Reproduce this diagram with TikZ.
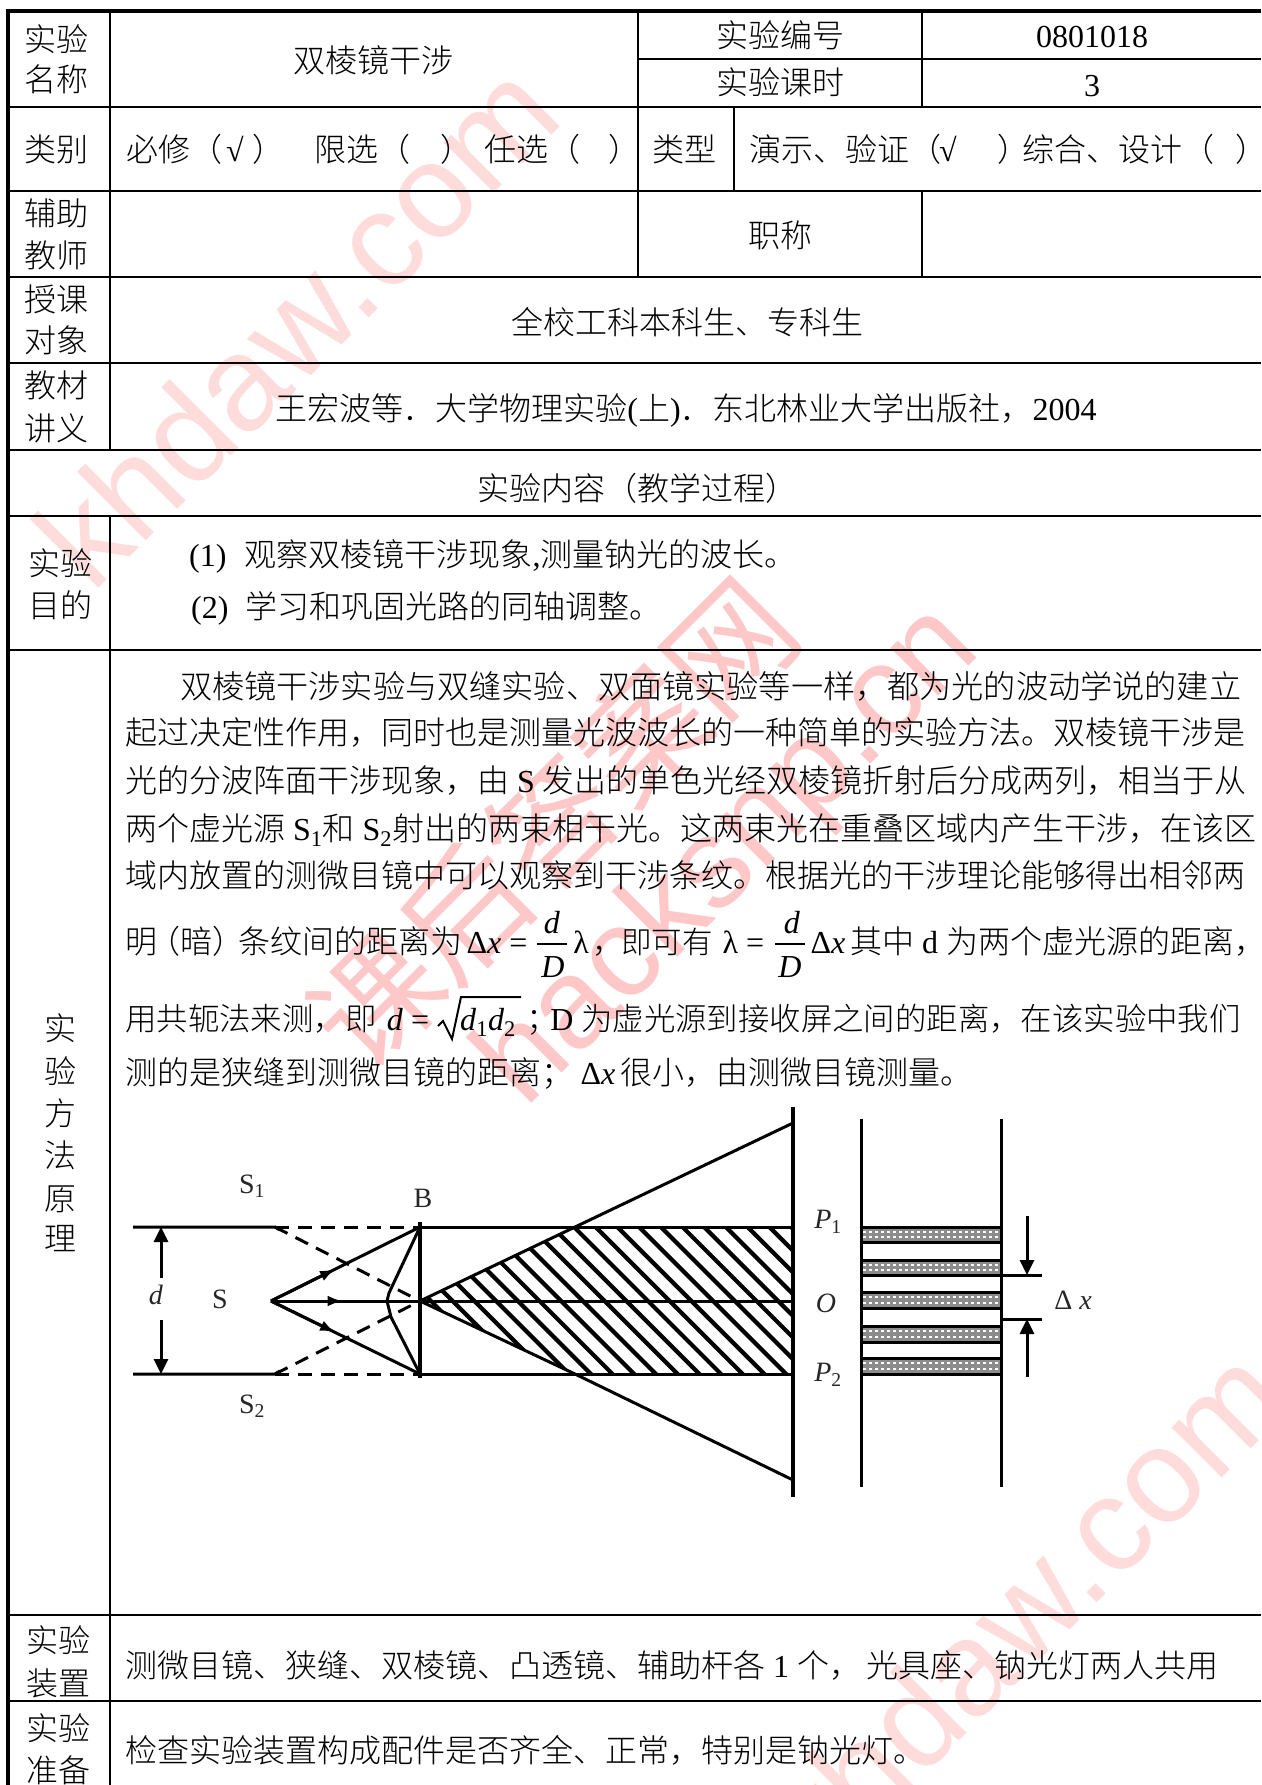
\documentclass[tikz,border=0pt]{standalone}
\usepackage{fontspec}
\setmainfont{Liberation Serif}
\newfontfamily\cjk{Noto Sans CJK SC Light}
\newfontfamily\cjkw{Noto Sans CJK SC}
\newfontfamily\wmf{Liberation Sans}
\usetikzlibrary{arrows.meta,calc}
\definecolor{wma}{HTML}{FFDCDC}
\definecolor{wmb}{HTML}{FFC8C8}
\tikzset{
  ct/.style={font=\cjk\fontsize{32}{38}\selectfont,inner sep=0pt,anchor=base},
  ln/.style={font=\cjk\fontsize{32}{38}\selectfont,inner sep=0pt,anchor=base west},
  lnx/.style={font=\cjk\fontsize{#1}{38}\selectfont,inner sep=0pt,anchor=base west},
  mth/.style={font=\rmfamily\fontsize{32}{38}\selectfont,inner sep=0pt,anchor=base},
  lab/.style={font=\rmfamily\fontsize{28}{30}\selectfont,inner sep=0pt,anchor=center,text=black!85},
  wmk/.style={font=\wmf\fontsize{134}{140}\selectfont,text=wma,inner sep=0pt,anchor=base west,rotate=45},
  rule/.style={line width=2.6pt,black},
  edge/.style={line width=4.5pt,black},
  ray/.style={line width=3pt,black},
  dray/.style={line width=3pt,black,dash pattern=on 14pt off 9pt},
  dim/.style={line width=3pt,black,-{Triangle[length=15pt,width=14pt]}},
  mid/.style={-{Latex[length=15pt,width=11pt]}},
  fringe/.style={draw=black,line width=3pt,fill=black!45},
  dots/.style={white,line width=2.4pt,dash pattern=on 3pt off 3pt},
}
\begin{document}
\begin{tikzpicture}[x=1pt,y=-1pt]
\useasboundingbox (0,0) rectangle (1261,1785);
\fill[white] (0,0) rectangle (1261,1785);
% watermarks
\node[wmk] (w1) at (92,595) {khdaw.com};
\node[wmk,text=wmb,font=\wmf\fontsize{128}{140}\selectfont] (w2) at (525,1110) {hacksnp.cn};
\node[wmk,text=wmb,font=\cjkw\fontsize{125}{130}\selectfont] (w3) at (365,1078) {课后答案网};
\node[wmk] (w4) at (820,1880) {khdaw.com};
% table
\draw[edge] (8,1785) -- (8,11) -- (1261,11);
\draw[rule] (110,11) -- (110,450);
\draw[rule] (110,516) -- (110,1785);
\foreach \yy in {107,191,277,363,450,516,650,1615,1701} \draw[rule] (8,\yy) -- (1261,\yy);
\draw[rule] (638,11) -- (638,277);
\draw[rule] (922,11) -- (922,107);
\draw[rule] (638,59) -- (1261,59);
\draw[rule] (734,107) -- (734,191);
\draw[rule] (922,191) -- (922,277);
% first column
\node[ct] (a1) at (56,52) {实验};
\node[ct] (a2) at (56,92) {名称};
\node[ct] (a3) at (56,161) {类别};
\node[ct] (a4) at (56,225) {辅助};
\node[ct] (a5) at (56,267) {教师};
\node[ct] (a6) at (56,311) {授课};
\node[ct] (a7) at (56,352) {对象};
\node[ct] (a8) at (56,397) {教材};
\node[ct] (a9) at (56,440) {讲义};
\node[ct] (a10) at (60,575) {实验};
\node[ct] (a11) at (60,617) {目的};
\node[ct] (m1) at (60,1040) {实};
\node[ct] (m2) at (60,1083) {验};
\node[ct] (m3) at (60,1125) {方};
\node[ct] (m4) at (60,1167) {法};
\node[ct] (m5) at (60,1210) {原};
\node[ct] (m6) at (60,1250) {理};
\node[ct] (a12) at (58,1652) {实验};
\node[ct] (a13) at (58,1695) {装置};
\node[ct] (a14) at (58,1740) {实验};
\node[ct] (a15) at (58,1782) {准备};
% header cells
\node[ct] (h1) at (373,72) {双棱镜干涉};
\node[ct] (h2) at (780,48) {实验编号};
\node[mth] (h3) at (1092,48) {0801018};
\node[ct] (h4) at (780,95) {实验课时};
\node[mth] (h5) at (1092,96) {3};
\node[ln] (c1) at (126,161) {必修（};
\node[mth] (c2) at (235,161) {√};
\node[ln] (c3) at (252,161) {）};
\node[ln] (c4) at (314,161) {限选（};
\node[ln] (c5) at (440,161) {）};
\node[ln] (c6) at (484,161) {任选（};
\node[ln] (c7) at (608,161) {）};
\node[ct] (c8) at (684,161) {类型};
\node[ln] (c9) at (749,161) {演示、验证（};
\node[mth] (c10) at (948,161) {√};
\node[ln] (c11) at (997,161) {）};
\node[ln] (c12) at (1022,161) {综合、设计（};
\node[ln] (c13) at (1235,161) {）};
\node[ct] (h6) at (780,247) {职称};
\node[ct] (h7) at (687,334) {全校工科本科生、专科生};
\node[ct] (h8) at (686,420) {王宏波等．大学物理实验{\rmfamily (}上{\rmfamily )}．东北林业大学出版社，{\rmfamily 2004}};
\node[ct] (h9) at (637,500) {实验内容（教学过程）};
\node[ln] (o1) at (189,566) {{\rmfamily (1)}\kern18pt 观察双棱镜干涉现象{\rmfamily ,}测量钠光的波长。};
\node[ln] (o2) at (191,618) {{\rmfamily (2)}\kern17pt 学习和巩固光路的同轴调整。};
% paragraph
\node[lnx=32.15] (p1) at (180,698) {双棱镜干涉实验与双缝实验、双面镜实验等一样，都为光的波动学说的建立};
\node[ln] (p2) at (125,744) {起过决定性作用，同时也是测量光波波长的一种简单的实验方法。双棱镜干涉是};
\node[ln] (p3) at (125,792) {光的分波阵面干涉现象，由{\rmfamily\ S\ }发出的单色光经双棱镜折射后分成两列，相当于从};
\node[ln] (p4) at (125,840) {两个虚光源{\rmfamily\ S\textsubscript{1}}和{\rmfamily\ S\textsubscript{2}}射出的两束相干光。这两束光在重叠区域内产生干涉，在该区};
\node[ln] (p5) at (125,887) {域内放置的测微目镜中可以观察到干涉条纹。根据光的干涉理论能够得出相邻两};
% formula line
\node[ln] (p6a) at (125,953) {明\kern-9pt（暗）\kern-6pt 条纹间的距离为};
\node[mth] (f1) at (497,953) {Δ\textit{x} =};
\node[mth] (f2) at (552,933) {\textit{d}};
\coordinate (b1l) at (537,944); \coordinate (b1r) at (567,944);
\draw[line width=2pt] (b1l) -- (b1r);
\node[mth] (f3) at (553,977) {\textit{D}};
\node[mth] (f4) at (581,953) {λ};
\node[ln] (f5) at (592,953) {，};
\node[lnx=30.5] (f5b) at (621,953) {即可有};
\node[mth] (f6) at (743.5,953) {λ =};
\node[mth] (f7) at (792,933) {\textit{d}};
\coordinate (b2l) at (775,944); \coordinate (b2r) at (805,944);
\draw[line width=2pt] (b2l) -- (b2r);
\node[mth] (f8) at (790,977) {\textit{D}};
\node[mth] (f9) at (828,953) {Δ\textit{x}};
\node[ln] (f10) at (850,953) {其中{\rmfamily\ d\ }为两个虚光源的距离，};
% sqrt line
\node[lnx=31.4] (p7a) at (125,1030) {用共轭法来测，即};
\node[mth] (g1) at (408,1030) {\textit{d} =};
\coordinate (s0) at (438,1026); \coordinate (s1) at (443,1021); \coordinate (s2) at (452,1039); \coordinate (s3) at (461,997); \coordinate (s4) at (521,997);
\draw[line width=2pt] (s0) -- (s1) -- (s2) -- (s3) -- (s4);
\node[mth] (g2) at (488,1030) {\textit{d}\textsubscript{1}\textit{d}\textsubscript{2}};
\node[ln] (g3) at (526,1030) {；};
\node[mth] (g3b) at (562,1030) {D};
\node[lnx=31.4] (g3c) at (581,1030) {为虚光源到接收屏之间的距离，在该实验中我们};
\node[ln] (p8a) at (125,1084) {测的是狭缝到测微目镜的距离；};
\node[mth] (g4) at (598,1084) {Δ\textit{x}};
\node[ln] (p8b) at (620,1084) {很小，由测微目镜测量。};
% figure
\coordinate (SS) at (271,1301);
\coordinate (Pt) at (420,1227); \coordinate (Pb) at (420,1374); \coordinate (Pc) at (420,1301);
\coordinate (Kt) at (275,1227); \coordinate (Kb) at (275,1374);
\coordinate (Lt) at (133,1227); \coordinate (Lb) at (133,1374);
\coordinate (Ct) at (575,1227); \coordinate (Cb) at (575,1374);
\coordinate (Rt) at (793,1227); \coordinate (Rb) at (793,1374); \coordinate (Rc) at (793,1301);
\coordinate (Ft) at (793,1123); \coordinate (Fb) at (793,1480);
\begin{scope}
\clip (Pc) -- (Ct) -- (Rt) -- (Rb) -- (Cb) -- cycle;
\foreach \i in {0,...,24} \draw[line width=4.2pt] (340+21.7*\i,1210) -- (340+21.7*\i+180,1390);
\end{scope}
\draw[ray] (Lt) -- (Kt) -- ++(5,3);
\draw[ray] (Lb) -- (Kb) -- ++(5,-3);
\draw[dray] (Kt) -- (Pt);
\draw[dray] (Kb) -- (Pb);
\draw[dray] (Kt) -- (Pc);
\draw[dray] (Kb) -- (Pc);
\draw[ray] (SS) -- (Pt);
\draw[ray] (SS) -- (Pb);
\draw[ray] (SS) -- (Rc);
\draw[ray,mid] (SS) -- ($(SS)!0.43!(Pt)$);
\draw[ray,mid] (SS) -- ($(SS)!0.43!(Pb)$);
\draw[ray,mid] (SS) -- ($(SS)!0.48!(Pc)$);
\draw[ray,line join=round] (Pt) -- (389,1293) -- (387,1301) -- (391,1317) -- (Pb);
\draw[line width=3.6pt] (420,1222) -- (420,1378);
\draw[ray] (Pt) -- (Rt);
\draw[ray] (Pb) -- (Rb);
\draw[ray] (Pc) -- (Ct) -- (Ft);
\draw[ray] (Pc) -- (Cb) -- (Fb);
\draw[line width=3.6pt] (793,1107) -- (793,1497);
% screen
\foreach \ya/\yb in {1227/1242,1260/1275,1292/1308,1326/1342,1358/1374}{
  \draw[fringe] (861,\ya) rectangle (1001,\yb);
  \draw[dots] (863,\ya+5) -- (999,\ya+5);
  \draw[dots] (863,\yb-5) -- (999,\yb-5);
}
\draw[line width=3pt] (861,1119) -- (861,1487);
\draw[line width=3pt] (1001,1119) -- (1001,1487);
\coordinate (E1) at (1001,1275); \coordinate (E2) at (1042,1275);
\coordinate (E3) at (1001,1319); \coordinate (E4) at (1042,1319);
\coordinate (A1) at (1027,1216); \coordinate (A2) at (1027,1275);
\coordinate (A3) at (1027,1377); \coordinate (A4) at (1027,1319);
\draw[ray] (E1) -- (E2); \draw[ray] (E3) -- (E4);
\draw[dim] (A1) -- (A2);
\draw[dim] (A3) -- (A4);
\coordinate (D0) at (161,1227); \coordinate (D1) at (161,1278);
\coordinate (D2) at (161,1320); \coordinate (D3) at (161,1374);
\draw[dim] (D1) -- (D0);
\draw[dim] (D2) -- (D3);
\node[lab] (l1) at (252,1186) {S\textsubscript{1}};
\node[lab] (l2) at (423,1198) {B};
\node[lab] (l3) at (156,1295) {\textit{d}};
\node[lab] (l4) at (220,1299) {S};
\node[lab] (l5) at (252,1406) {S\textsubscript{2}};
\node[lab] (l6) at (828,1222) {\textit{P}\textsubscript{1}};
\node[lab] (l7) at (826,1303) {\textit{O}};
\node[lab] (l8) at (828,1375) {\textit{P}\textsubscript{2}};
\node[lab] (l9) at (1073,1300) {Δ \textit{x}};
% bottom rows
\node[ln] (r1) at (125,1677) {测微目镜、狭缝、双棱镜、凸透镜、辅助杆各{\rmfamily\ 1\ }个，\,光具座、钠光灯两人共用};
\node[ln] (r2) at (125,1762) {检查实验装置构成配件是否齐全、正常，特别是钠光灯。};
\end{tikzpicture}
\end{document}
